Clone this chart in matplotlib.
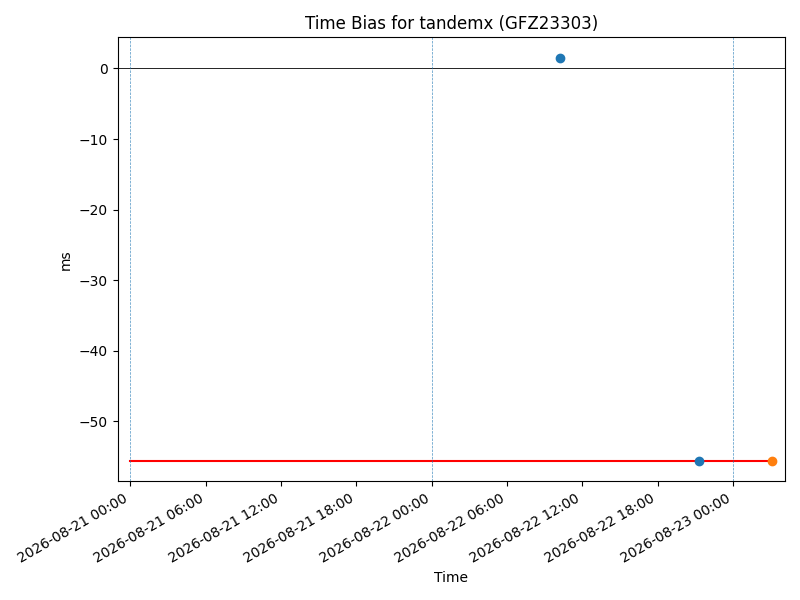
import matplotlib
matplotlib.use("Agg")
from matplotlib import pyplot as plt
import matplotlib.dates as mdates
import numpy as np
from datetime import datetime

# time bias points (ms)
bias_times = [datetime(2026, 8, 22, 10, 12), datetime(2026, 8, 22, 21, 18)]
bias_values = [1.55, -55.65]
last_time = [datetime(2026, 8, 23, 3, 8)]
last_value = [-55.65]

# reference level
ref_start = datetime(2026, 8, 21, 0, 0)
ref_level = -55.65

# day boundaries
day_marks = [datetime(2026, 8, 21), datetime(2026, 8, 22), datetime(2026, 8, 23)]

fig, ax = plt.subplots(figsize=(8, 6), dpi=100)

ax.plot([ref_start, last_time[0]], [ref_level, ref_level], color="red", zorder=2)
ax.scatter(bias_times, bias_values, color="C0", zorder=3)
ax.scatter(last_time, last_value, color="C1", zorder=3)

ax.axhline(0, color="black", linewidth=0.6)
for d in day_marks:
    ax.axvline(d, color="C0", linestyle="--", linewidth=0.5, alpha=0.8)

ax.margins(x=0.02)
ax.xaxis.set_major_locator(mdates.HourLocator(byhour=[0, 6, 12, 18]))
ax.xaxis.set_major_formatter(mdates.DateFormatter("%Y-%m-%d %H:%M"))
fig.autofmt_xdate()

ax.set_title("Time Bias for tandemx (GFZ23303)")
ax.set_xlabel("Time")
ax.set_ylabel("ms")

plt.tight_layout()
plt.savefig("out.png")
